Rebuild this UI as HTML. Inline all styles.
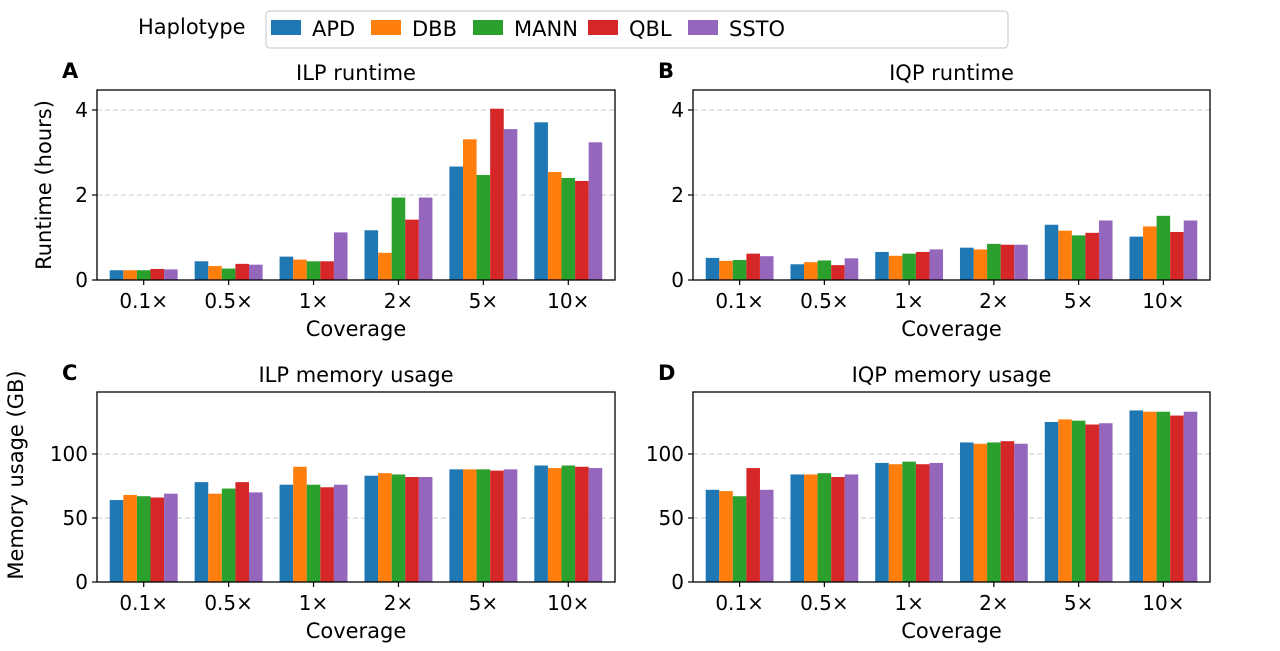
<!DOCTYPE html>
<html><head><meta charset="utf-8"><style>
body{margin:0;background:#fff;}
svg{display:block;font-family:"DejaVu Sans","Liberation Sans",sans-serif;}
</style></head><body>
<svg id="c" width="1280" height="651" viewBox="0 0 1280 651"></svg>
<script>
const categories=["0.1×","0.5×","1×","2×","5×","10×"];
const haplotypes=["APD","DBB","MANN","QBL","SSTO"];
const colors=["#1f77b4","#ff7f0e","#2ca02c","#d62728","#9467bd"];
const ilpRuntime=[[0.23,0.44,0.55,1.17,2.67,3.71],[0.23,0.33,0.48,0.64,3.31,2.54],[0.23,0.27,0.44,1.94,2.47,2.40],[0.26,0.38,0.44,1.42,4.03,2.33],[0.25,0.36,1.12,1.94,3.55,3.24]];
const iqpRuntime=[[0.52,0.37,0.66,0.76,1.30,1.02],[0.45,0.42,0.57,0.72,1.16,1.26],[0.47,0.46,0.62,0.85,1.05,1.51],[0.62,0.35,0.66,0.83,1.11,1.13],[0.56,0.51,0.72,0.83,1.40,1.40]];
const ilpMemory=[[64,78,76,83,88,91],[68,69,90,85,88,89],[67,73,76,84,88,91],[66,78,74,82,87,90],[69,70,76,82,88,89]];
const iqpMemory=[[72,84,93,109,125,134],[71,84,92,108,127,133],[67,85,94,109,126,133],[89,82,92,110,123,130],[72,84,93,108,124,133]];
const runtimeTicks=[0,2,4];
const memoryTicks=[0,50,100];

const svg=document.getElementById('c');
const NS="http://www.w3.org/2000/svg";
function el(tag,attrs,parent,text){const e=document.createElementNS(NS,tag);for(const k in attrs)e.setAttribute(k,attrs[k]);if(text!==undefined)e.textContent=text;(parent||svg).appendChild(e);return e;}

const panels=[
 {id:"a",letter:"A",title:"ILP runtime",x0:97,x1:615,yTop:90,yBot:280,ymax:4.47,data:ilpRuntime,ticks:runtimeTicks,ylabel:"Runtime (hours)",ylx:44,yly:185},
 {id:"b",letter:"B",title:"IQP runtime",x0:693,x1:1210,yTop:90,yBot:280,ymax:4.47,data:iqpRuntime,ticks:runtimeTicks},
 {id:"c",letter:"C",title:"ILP memory usage",x0:97,x1:615,yTop:392,yBot:582,ymax:148.4,data:ilpMemory,ticks:memoryTicks,ylabel:"Memory usage (GB)",ylx:16,yly:475},
 {id:"d",letter:"D",title:"IQP memory usage",x0:693,x1:1210,yTop:392,yBot:582,ymax:148.4,data:iqpMemory,ticks:memoryTicks}
];
panels.forEach(p=>{
 const g=el('g',{},svg);
 
 
 const xs=v=>p.x0+(v+0.55)/6.1*(p.x1-p.x0);
 const ys=v=>p.yBot-v/p.ymax*(p.yBot-p.yTop);
 p.ticks.forEach(t=>{
  const y=ys(t);
  const gl=el('line',{x1:p.x0,x2:p.x1,y1:y,y2:y,stroke:"#c8c8c8","stroke-dasharray":"5,3","stroke-width":1},g);
  
  
  el('line',{x1:p.x0-5,x2:p.x0,y1:y,y2:y,stroke:"#000","stroke-width":1.2},g);
  const tl=el('text',{x:p.x0-9,y:y+7,"text-anchor":"end","font-size":20},g,String(t));
  
  
 });
 const bw=0.16;
 p.data.forEach((series,si)=>{
  series.forEach((v,ci)=>{
   const cx=ci+(si-2)*bw;
   const xa=xs(cx-bw/2),xb=xs(cx+bw/2);
   const r=el('rect',{x:xa,y:ys(v),width:xb-xa,height:ys(0)-ys(v),fill:colors[si]},g);
   
   
  });
 });
 categories.forEach((c,ci)=>{
  const x=xs(ci);
  el('line',{x1:x,x2:x,y1:p.yBot,y2:p.yBot+5,stroke:"#000","stroke-width":1.2},g);
  const t=el('text',{x:x,y:p.yBot+28,"text-anchor":"middle","font-size":20},g,c);
  
  
 });
 el('rect',{x:p.x0,y:p.yTop,width:p.x1-p.x0,height:p.yBot-p.yTop,fill:"none",stroke:"#000","stroke-width":1.3},g);
 const tt=el('text',{x:(p.x0+p.x1)/2,y:p.yTop-10,"text-anchor":"middle","font-size":21},g,p.title);
 
 
 const lt=el('text',{x:p.x0-35,y:p.yTop-12,"font-size":21,"font-weight":"bold"},g,p.letter);
 
 
 const xl=el('text',{x:(p.x0+p.x1)/2,y:p.yBot+56,"text-anchor":"middle","font-size":21},g,"Coverage");
 
 
 if(p.ylabel){
  const yl=el('text',{x:0,y:0,"text-anchor":"middle","font-size":21,transform:`translate(${p.ylx+7},${p.yly}) rotate(-90)`},g,p.ylabel);
  
  
 }
});
// legend
const lg=el('g',{},svg);


const lgt=el('text',{x:138,y:34,"font-size":21},lg,"Haplotype");


el('rect',{x:266,y:11,width:742,height:37,rx:4,fill:"#fff",stroke:"#d0d0d0","stroke-width":1.2},lg);
const patchX=[271,371,473,588,688];
haplotypes.forEach((h,i)=>{
 const e=el('g',{},lg);
 
 
 el('rect',{x:patchX[i],y:20,width:30,height:15,fill:colors[i]},e);
 el('text',{x:patchX[i]+41,y:36,"font-size":21},e,h);
});
</script>
</body></html>
